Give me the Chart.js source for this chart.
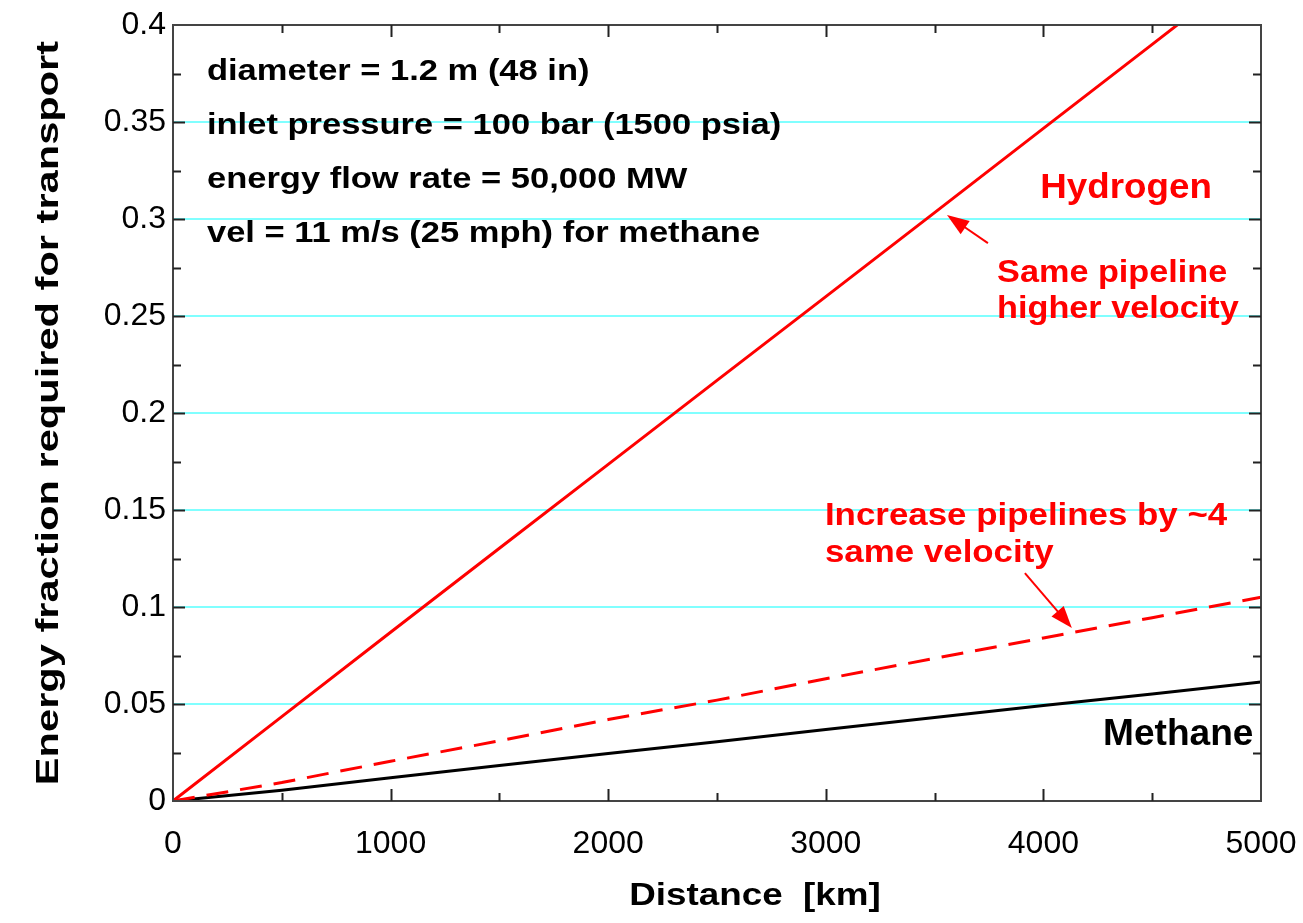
<!DOCTYPE html>
<html>
<head>
<meta charset="utf-8">
<script src="https://cdn.jsdelivr.net/npm/chart.js@4.4.1/dist/chart.umd.min.js"></script>
<style>
  html, body { margin: 0; padding: 0; background: #fff; }
  #wrap { width: 1303px; height: 923px; position: relative; }
</style>
</head>
<body>
<div id="wrap"><canvas id="chart"></canvas></div>
<script>
// datos
const distanceKm   = [0, 500, 1000, 1500, 2000, 2500, 3000, 3500, 4000, 4500, 5000];
const hydrogenSame = [0, 0.0435, 0.0870, 0.1303, 0.1735, 0.2168, 0.2600, 0.3033, 0.3467, 0.3900, 0.4335];
const hydrogen4x   = [0, 0.0095, 0.0205, 0.0310, 0.0420, 0.0520, 0.0630, 0.0735, 0.0840, 0.0945, 0.1050];
const methane      = [0, 0.0055, 0.0120, 0.0183, 0.0245, 0.0306, 0.0368, 0.0430, 0.0492, 0.0552, 0.0613];

const xTickLabels = ['0', '1000', '2000', '3000', '4000', '5000'];
const yTickLabels = ['0', '0.05', '0.1', '0.15', '0.2', '0.25', '0.3', '0.35', '0.4'];

const infoLines = [
  'diameter = 1.2 m (48 in)',
  'inlet pressure = 100 bar (1500 psia)',
  'energy flow rate = 50,000 MW',
  'vel = 11 m/s (25 mph) for methane'
];

const FONT = '"Liberation Sans", Arial, Helvetica, sans-serif';
const RED = '#ff0000';

function pts(ys) {
  return distanceKm.map((d, i) => ({ x: d, y: ys[i] }));
}

function txt(ctx, str, px, py, size, sx, color, align) {
  ctx.save();
  ctx.font = 'bold ' + size + 'px ' + FONT;
  ctx.fillStyle = color;
  ctx.textAlign = align || 'left';
  ctx.textBaseline = 'alphabetic';
  ctx.translate(px, py);
  ctx.scale(sx, 1);
  ctx.fillText(str, 0, 0);
  ctx.restore();
}

function arrow(ctx, x1, y1, x2, y2) {
  const ang = Math.atan2(y2 - y1, x2 - x1);
  const L = 22, W = 8;
  ctx.save();
  ctx.strokeStyle = RED;
  ctx.fillStyle = RED;
  ctx.lineWidth = 2;
  ctx.beginPath();
  ctx.moveTo(x1, y1);
  ctx.lineTo(x2 - Math.cos(ang) * L * 0.8, y2 - Math.sin(ang) * L * 0.8);
  ctx.stroke();
  ctx.beginPath();
  ctx.moveTo(x2, y2);
  ctx.lineTo(x2 - Math.cos(ang) * L - Math.sin(ang) * W, y2 - Math.sin(ang) * L + Math.cos(ang) * W);
  ctx.lineTo(x2 - Math.cos(ang) * L + Math.sin(ang) * W, y2 - Math.sin(ang) * L - Math.cos(ang) * W);
  ctx.closePath();
  ctx.fill();
  ctx.restore();
}

const decor = {
  id: 'decor',
  afterDatasetsDraw(chart) {
    const { ctx, chartArea: a, scales: { x, y } } = chart;

    // marco
    ctx.save();
    ctx.strokeStyle = '#444';
    ctx.lineWidth = 2;
    ctx.strokeRect(a.left, a.top, a.right - a.left, a.bottom - a.top);

    // ticks hacia dentro en los cuatro lados
    ctx.strokeStyle = '#222';
    ctx.lineWidth = 2;
    ctx.beginPath();
    for (let v = 500; v < 5000; v += 500) {
      const px = Math.round(x.getPixelForValue(v)) + 0.5;
      const len = v % 1000 === 0 ? 12 : 8;
      ctx.moveTo(px, a.bottom); ctx.lineTo(px, a.bottom - len);
      ctx.moveTo(px, a.top); ctx.lineTo(px, a.top + len);
    }
    for (let k = 1; k < 16; k++) {
      const v = k * 0.025;
      const py = Math.round(y.getPixelForValue(v)) + 0.5;
      const len = k % 2 === 0 ? 12 : 8;
      ctx.moveTo(a.left, py); ctx.lineTo(a.left + len, py);
      ctx.moveTo(a.right, py); ctx.lineTo(a.right - len, py);
    }
    ctx.stroke();
    ctx.restore();

    // texto de parametros
    infoLines.forEach((s, i) => {
      txt(ctx, s, x.getPixelForValue(156), y.getPixelForValue(0.3716 - i * 0.0278), 30, 1.15, '#000');
    });

    // etiquetas
    txt(ctx, 'Hydrogen', x.getPixelForValue(4380), y.getPixelForValue(0.311), 35, 1.05, RED, 'center');
    txt(ctx, 'Same pipeline', x.getPixelForValue(3787), y.getPixelForValue(0.2675), 32, 1.07, RED);
    txt(ctx, 'higher velocity', x.getPixelForValue(3787), y.getPixelForValue(0.249), 32, 1.07, RED);
    txt(ctx, 'Increase pipelines by ~4', x.getPixelForValue(2996), y.getPixelForValue(0.1423), 32, 1.09, RED);
    txt(ctx, 'same velocity', x.getPixelForValue(2996), y.getPixelForValue(0.1232), 32, 1.09, RED);
    txt(ctx, 'Methane', x.getPixelForValue(4274), y.getPixelForValue(0.0289), 36, 1.03, '#000');

    // flechas
    arrow(ctx, x.getPixelForValue(3745), y.getPixelForValue(0.2876), x.getPixelForValue(3557), y.getPixelForValue(0.302));
    arrow(ctx, x.getPixelForValue(3915), y.getPixelForValue(0.1175), x.getPixelForValue(4131), y.getPixelForValue(0.0892));

    // titulos de ejes
    txt(ctx, 'Distance  [km]', 755, 905, 32, 1.15, '#000', 'center');
    ctx.save();
    ctx.translate(58, (a.top + a.bottom) / 2);
    ctx.rotate(-Math.PI / 2);
    txt(ctx, 'Energy fraction required for transport', 0, 0, 32, 1.3, '#000', 'center');
    ctx.restore();
  }
};

new Chart(document.getElementById('chart'), {
  type: 'line',
  data: {
    datasets: [
      { label: 'Hydrogen same pipeline', data: pts(hydrogenSame), borderColor: RED, borderWidth: 3, pointRadius: 0, tension: 0 },
      { label: 'Hydrogen 4 pipelines', data: pts(hydrogen4x), borderColor: RED, borderWidth: 3, borderDash: [22, 12], pointRadius: 0, tension: 0 },
      { label: 'Methane', data: pts(methane), borderColor: '#000', borderWidth: 3, pointRadius: 0, tension: 0 }
    ]
  },
  options: {
    responsive: true,
    maintainAspectRatio: false,
    animation: false,
    layout: { padding: { left: 0, top: 25, right: 42, bottom: 0 } },
    plugins: { legend: { display: false }, tooltip: { enabled: false } },
    scales: {
      x: {
        type: 'linear', min: 0, max: 5000,
        afterFit: s => { s.height = 122; s.paddingLeft = 0; s.paddingRight = 0; },
        afterBuildTicks: s => { s.ticks = xTickLabels.map(t => ({ value: Number(t) })); },
        ticks: {
          callback: (v) => xTickLabels.find(t => Number(t) === v),
          color: '#000', padding: 24, maxRotation: 0, autoSkip: false,
          font: { family: FONT, size: 32 }
        },
        grid: { display: false, drawTicks: false },
        border: { display: false }
      },
      y: {
        min: 0, max: 0.4,
        afterFit: s => { s.width = 173; s.paddingTop = 0; s.paddingBottom = 0; },
        afterBuildTicks: s => { s.ticks = yTickLabels.map(t => ({ value: Number(t) })); },
        ticks: {
          callback: (v) => yTickLabels.find(t => Number(t) === v),
          color: '#000', padding: 7, autoSkip: false,
          font: { family: FONT, size: 32 }
        },
        grid: {
          drawTicks: false,
          lineWidth: 2,
          color: c => (c.tick && (c.tick.value === 0 || c.tick.value === 0.4)) ? 'rgba(0,0,0,0)' : '#80ffff'
        },
        border: { display: false }
      }
    }
  },
  plugins: [decor]
});
</script>
</body>
</html>
